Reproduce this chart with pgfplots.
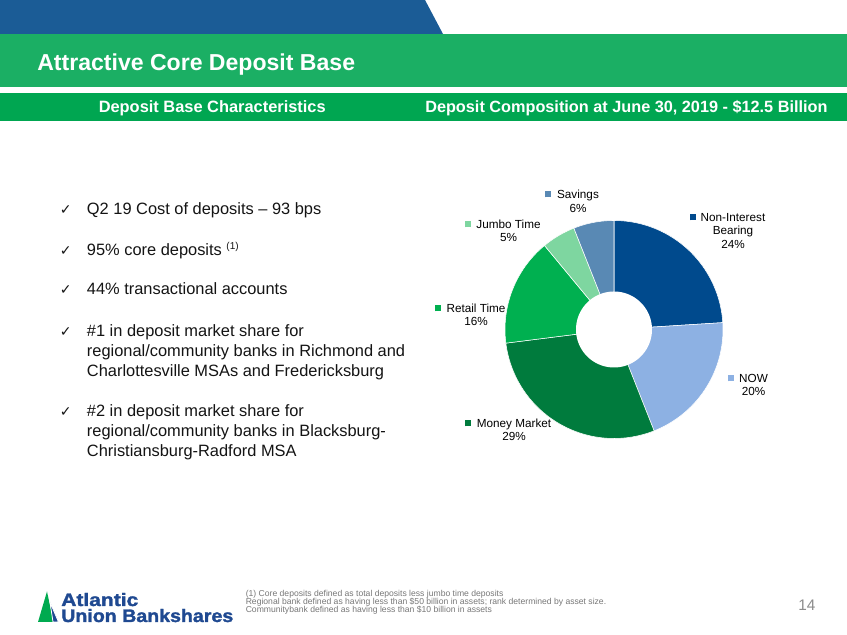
\documentclass[border=0pt]{standalone}
\usepackage{pgfplots}
\pgfplotsset{compat=1.18}
\usepackage{pgfplotstable}
\usepackage{graphicx}
\usepackage{fontspec}
\setmainfont{Liberation Sans}
\newfontfamily\dejavu{DejaVu Sans}
\newfontfamily\logofont[FakeBold=1.6]{Liberation Sans Bold}

\definecolor{topblue}{RGB}{27,92,150}
\definecolor{titlegreen}{RGB}{27,175,100}
\definecolor{subgreen}{RGB}{0,166,81}
\definecolor{nii}{RGB}{0,74,141}
\definecolor{nowc}{RGB}{141,177,227}
\definecolor{mm}{RGB}{0,123,61}
\definecolor{rt}{RGB}{0,176,80}
\definecolor{jt}{RGB}{126,214,160}
\definecolor{sav}{RGB}{89,137,180}
\definecolor{logoblue}{RGB}{31,73,145}
\definecolor{logogreen}{RGB}{0,170,80}
\definecolor{footgray}{RGB}{120,120,120}
\definecolor{numgray}{RGB}{140,140,140}
\definecolor{bodytext}{RGB}{20,20,20}

% Deposit composition (percent of total), clockwise from 12 o'clock
\pgfplotstableread{
segment        pct  start  end
NonInterest    24   0      24
NOW            20   24     44
MoneyMarket    29   44     73
RetailTime     16   73     89
JumboTime      5    89     94
Savings        6    94     100
}\deposits

\newcommand{\donutslice}[3]{%
  \addplot[fill=#1, draw=white, line width=0.4pt, domain=#2:#3, samples=50]
    ({109*cos(90-3.6*x)}, {109*sin(90-3.6*x)}) -- (axis cs:0,0) -- cycle;}

\newcommand{\sq}[1]{\textcolor{#1}{\rule[0.75pt]{4.5pt}{4.5pt}}}
\newcommand{\labfont}{\fontsize{8.8}{10}\selectfont}
\newcommand{\bodyfont}{\fontsize{12.3}{14.7}\selectfont}
\newcommand{\footfont}{\fontsize{6.45}{7}\selectfont}

\begin{document}
\begin{tikzpicture}[x=0.75pt,y=0.75pt]
\fill[white] (0,0) rectangle (847,635);
\useasboundingbox (0,0) rectangle (847,635);

% header bands
\fill[topblue] (0,635) -- (425,635) -- (443,601) -- (0,601) -- cycle;
\fill[titlegreen] (0,548) rectangle (847,601);
\fill[subgreen] (0,514) rectangle (847,542);

\node[anchor=base west, inner sep=0, text=white, font=\bfseries\fontsize{17.3}{20}\selectfont] at (37,564.3) {Attractive Core Deposit Base};
\node[anchor=base west, inner sep=0, text=white, font=\bfseries\fontsize{12.3}{14}\selectfont] at (98.5,522) {Deposit Base Characteristics};
\node[anchor=base west, inner sep=0, text=white, font=\bfseries\fontsize{12.2}{14}\selectfont] at (425,522) {Deposit Composition at June 30, 2019 - \$12.5 Billion};

% bullets
\foreach \yy in {420,379,340,298,218}{
  \node[anchor=base west, inner sep=0, text=bodytext, font=\dejavu\fontsize{10.5}{12}\selectfont] at (59.5,\yy) {✓};
}
\begin{scope}[every node/.style={anchor=base west, inner sep=0, text=bodytext, font=\bodyfont}]
\node at (86.7,420) {Q2 19 Cost of deposits – 93 bps};
\node at (86.7,379) {95\% core deposits {\fontsize{7.5}{8}\selectfont\raisebox{4.6pt}{(1)}}};
\node at (86.7,340) {44\% transactional accounts};
\node at (86.7,298) {\#1 in deposit market share for};
\node at (86.7,278) {regional/community banks in Richmond and};
\node at (86.7,258) {Charlottesville MSAs and Fredericksburg};
\node at (86.7,218) {\#2 in deposit market share for};
\node at (86.7,198) {regional/community banks in Blacksburg-};
\node at (86.7,178) {Christiansburg-Radford MSA};
\end{scope}

% donut chart
\begin{axis}[at={(614,305.5)}, anchor=center, scale only axis,
  width=163.5pt, height=163.5pt,
  xmin=-109, xmax=109, ymin=-109, ymax=109,
  hide axis, clip=false]
  \donutslice{nii}{0}{24}
  \donutslice{nowc}{24}{44}
  \donutslice{mm}{44}{73}
  \donutslice{rt}{73}{89}
  \donutslice{jt}{89}{94}
  \donutslice{sav}{94}{100}
  \addplot[fill=white, draw=none, domain=0:360, samples=120]
    ({38*cos(x)}, {38*sin(x)}) -- cycle;
\end{axis}

% data labels
\begin{scope}[every node/.style={anchor=base, inner sep=0, text=black, font=\labfont}]
\node at (578,436.7) {\llap{\sq{sav}\hspace{4.5pt}}Savings};
\node at (578,422.7) {6\%};
\node at (733,413.5) {\llap{\sq{nii}\hspace{3.8pt}}Non-Interest};
\node at (733,400) {Bearing};
\node at (733,386.3) {24\%};
\node at (508.5,406.7) {\llap{\sq{jt}\hspace{3.8pt}}Jumbo Time};
\node at (508.5,393.3) {5\%};
\node at (476,322.7) {\llap{\sq{rt}\hspace{4.5pt}}Retail Time};
\node at (476,309.3) {16\%};
\node at (753.5,252.7) {\llap{\sq{nowc}\hspace{3.8pt}}NOW};
\node at (753.5,239.3) {20\%};
\node at (514,207.7) {\llap{\sq{mm}\hspace{4.5pt}}Money Market};
\node at (514,194.3) {29\%};
\end{scope}

% logo
\fill[logogreen] (38,13) -- (47,43.5) -- (53.5,13) -- cycle;
\fill[logoblue, draw=white, line width=0.6pt] (50,33) -- (58.5,13) -- (53,13) -- cycle;
\node[anchor=base west, inner sep=0, text=logoblue, font=\logofont\fontsize{13.5}{15}\selectfont] at (61,29) {\resizebox{57.75pt}{\height}{Atlantic}};
\node[anchor=base west, inner sep=0, text=logoblue, font=\logofont\fontsize{13.5}{15}\selectfont] at (61,13) {\resizebox{129pt}{\height}{Union Bankshares}};

% footnote
\begin{scope}[every node/.style={anchor=base west, inner sep=0, text=footgray, font=\footfont}]
\node at (245.5,38) {(1) Core deposits defined as total deposits less jumbo time deposits};
\node at (245.5,30) {Regional bank defined as having less than \$50 billion in assets; rank determined by asset size.};
\node at (245.5,22) {Communitybank defined as having less than \$10 billion in assets};
\end{scope}

\node[anchor=base west, inner sep=0, text=numgray, font=\fontsize{11.5}{13}\selectfont] at (798,24) {14};
\end{tikzpicture}
\end{document}
